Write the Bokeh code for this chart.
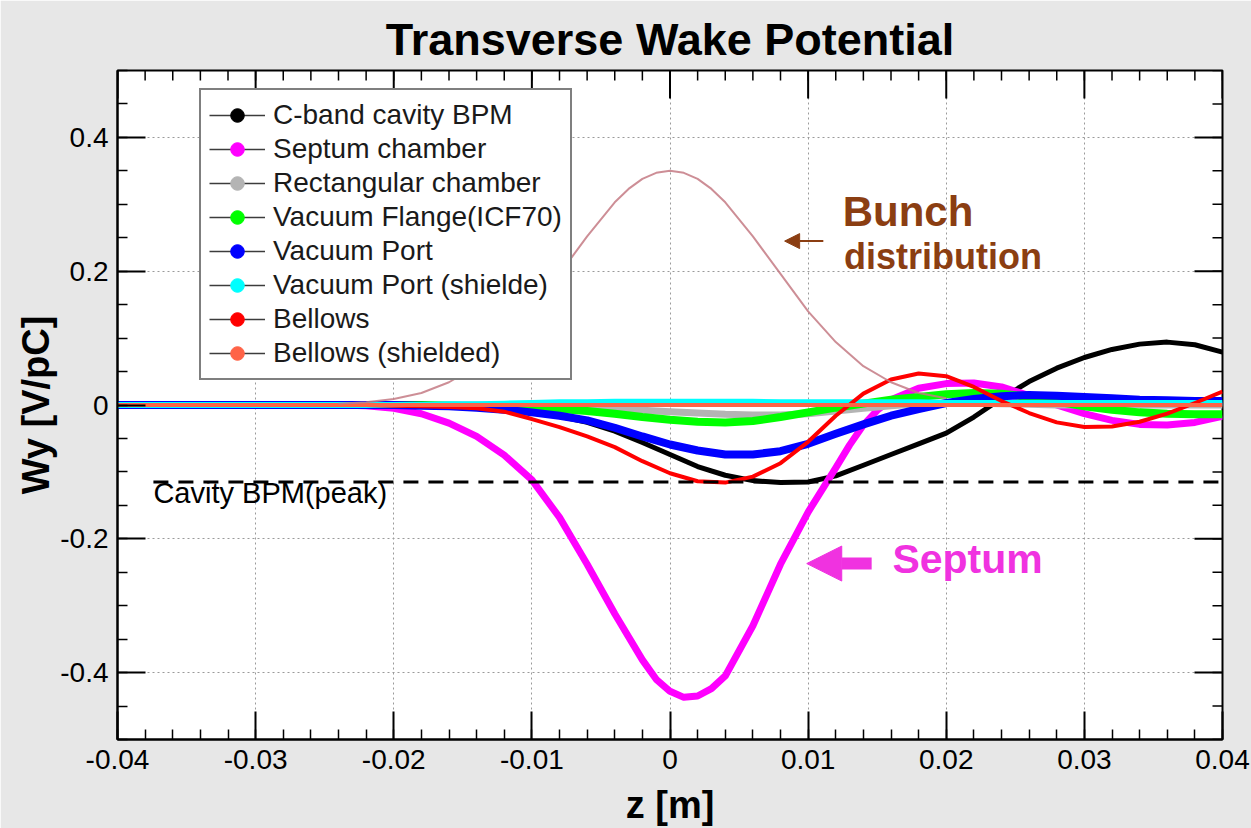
from bokeh.plotting import figure
from bokeh.models import (Range1d, FixedTicker, Legend, LegendItem,
                          Label, Arrow, NormalHead)
from bokeh.embed import file_html
from bokeh.resources import INLINE
import numpy as np

# ---------------- data ----------------
z = [-0.040, -0.030, -0.024, -0.022, -0.020, -0.018, -0.016, -0.014, -0.012, -0.010,
     -0.008, -0.006, -0.004, -0.002, 0.000, 0.002, 0.004, 0.006, 0.008, 0.010,
     0.012, 0.014, 0.016, 0.018, 0.020, 0.022, 0.024, 0.026, 0.028, 0.030,
     0.032, 0.034, 0.036, 0.038, 0.040]

cband_bpm = [0, 0, 0, 0, 0, -0.001, -0.002, -0.004, -0.007, -0.011,
             -0.017, -0.026, -0.039, -0.056, -0.074, -0.092, -0.105, -0.113, -0.116, -0.115,
             -0.106, -0.090, -0.074, -0.058, -0.042, -0.018, 0.010, 0.035, 0.055, 0.071,
             0.083, 0.091, 0.094, 0.090, 0.079]

z_septum = [-0.040, -0.030, -0.024, -0.022, -0.020, -0.018, -0.016, -0.014, -0.012, -0.010,
            -0.008, -0.006, -0.004, -0.002, -0.001, 0.000, 0.001, 0.002, 0.003, 0.004,
            0.006, 0.008, 0.010, 0.012, 0.013, 0.014, 0.015, 0.016, 0.018, 0.020,
            0.022, 0.024, 0.026, 0.028, 0.030, 0.032, 0.034, 0.036, 0.038, 0.040]
septum = [0, 0, 0, -0.001, -0.005, -0.013, -0.027, -0.047, -0.075, -0.112,
          -0.168, -0.238, -0.312, -0.381, -0.410, -0.428, -0.437, -0.435, -0.424, -0.405,
          -0.330, -0.238, -0.160, -0.094, -0.060, -0.030, -0.008, 0.008, 0.025, 0.032,
          0.033, 0.027, 0.014, 0.000, -0.013, -0.023, -0.029, -0.030, -0.026, -0.017]

rect_chamber = [0, 0, 0, 0, 0, 0, 0, 0, -0.001, -0.002,
                -0.003, -0.004, -0.006, -0.008, -0.010, -0.012, -0.014, -0.015, -0.015, -0.013,
                -0.009, -0.005, -0.001, 0.002, 0.003, 0.003, 0.002, 0.001, 0, 0,
                0, 0, 0, 0, 0]

flange_icf70 = [0, 0, 0, 0, 0, 0, -0.001, -0.002, -0.003, -0.004,
                -0.006, -0.009, -0.013, -0.018, -0.022, -0.025, -0.026, -0.024, -0.018, -0.011,
                -0.004, 0.002, 0.008, 0.012, 0.016, 0.018, 0.017, 0.012, 0.005, -0.002,
                -0.007, -0.011, -0.013, -0.014, -0.014]

vac_port = [0, 0, 0, 0, 0, -0.001, -0.002, -0.004, -0.007, -0.011,
            -0.016, -0.023, -0.034, -0.047, -0.059, -0.068, -0.074, -0.074, -0.069, -0.058,
            -0.043, -0.029, -0.016, -0.006, 0.003, 0.009, 0.013, 0.015, 0.014, 0.012,
            0.010, 0.008, 0.007, 0.006, 0.006]

vac_port_sh = [0, 0, 0, 0, 0, 0, 0.001, 0.001, 0.002, 0.003,
               0.004, 0.004, 0.005, 0.005, 0.005, 0.005, 0.005, 0.005, 0.004, 0.004,
               0.004, 0.004, 0.004, 0.004, 0.003, 0.003, 0.003, 0.003, 0.003, 0.003,
               0.003, 0.003, 0.003, 0.003, 0.003]

bellows = [0, 0, 0, 0, -0.001, -0.002, -0.003, -0.005, -0.010, -0.021,
           -0.033, -0.047, -0.063, -0.084, -0.102, -0.114, -0.116, -0.107, -0.087, -0.055,
           -0.016, 0.017, 0.038, 0.047, 0.043, 0.027, 0.006, -0.012, -0.026, -0.033,
           -0.032, -0.025, -0.013, 0.003, 0.020]

bellows_sh = [0] * len(z)

z_bunch = [-0.024, -0.022, -0.020, -0.018, -0.016, -0.014, -0.012, -0.010, -0.008, -0.006,
           -0.004, -0.003, -0.002, -0.001, 0.000, 0.001, 0.002, 0.003, 0.004, 0.006,
           0.008, 0.010, 0.012, 0.014, 0.016, 0.018, 0.020]
bunch = [0.002, 0.004, 0.009, 0.018, 0.034, 0.058, 0.094, 0.140, 0.196, 0.252,
         0.303, 0.323, 0.338, 0.347, 0.350, 0.347, 0.338, 0.323, 0.303, 0.252,
         0.196, 0.140, 0.094, 0.058, 0.034, 0.018, 0.010]

bpm_peak = -0.115

series_names = ["C-band cavity BPM", "Septum chamber", "Rectangular chamber",
                "Vacuum Flange(ICF70)", "Vacuum Port", "Vacuum Port (shielde)",
                "Bellows", "Bellows (shielded)"]
series_colors = ["#000000", "#ff00ff", "#b4b4b4", "#00ff00", "#0000ff",
                 "#00ffff", "#ff0000", "#ff6347"]
series_widths = [5, 7, 7, 8, 8, 6, 4, 4]
series_x = [z, z_septum, z, z, z, z, z, z]
series_y = [cband_bpm, septum, rect_chamber, flange_icf70, vac_port,
            vac_port_sh, bellows, bellows_sh]

x_ticks = [-0.04, -0.03, -0.02, -0.01, 0.0, 0.01, 0.02, 0.03, 0.04]
x_tick_labels = ["-0.04", "-0.03", "-0.02", "-0.01", "0", "0.01", "0.02", "0.03", "0.04"]
y_ticks = [-0.4, -0.2, 0.0, 0.2, 0.4]
y_tick_labels = ["-0.4", "-0.2", "0", "0.2", "0.4"]

X_LO, X_HI, Y_LO, Y_HI = -0.04, 0.04, -0.5, 0.5

# ---------------- figure ----------------
FONT = "Liberation Sans"
p = figure(width=1251, height=828, x_range=Range1d(X_LO, X_HI), y_range=Range1d(Y_LO, Y_HI),
           output_backend="svg", toolbar_location=None,
           min_border_left=117, min_border_right=29, min_border_top=70, min_border_bottom=87,
           border_fill_color="#e7e7e7", background_fill_color="white",
           outline_line_color="black", outline_line_width=2)

p.title.text = "Transverse Wake Potential"
p.title.align = "center"
p.title.text_font = FONT
p.title.text_font_size = "45px"
p.title.text_font_style = "bold"
p.title.text_color = "black"
p.title.standoff = 12

x_minor = [float(v) for v in np.round(np.arange(-0.04, 0.0401, 0.002), 4)]
y_minor = [float(v) for v in np.round(np.arange(-0.5, 0.501, 0.05), 3)]
xt = FixedTicker(ticks=x_ticks, minor_ticks=x_minor)
yt = FixedTicker(ticks=y_ticks, minor_ticks=y_minor)

xb = p.xaxis[0]
yl = p.yaxis[0]
xb.ticker = xt
yl.ticker = yt
xb.major_label_overrides = dict(zip(x_ticks, x_tick_labels))
yl.major_label_overrides = dict(zip(y_ticks, y_tick_labels))

for ax in [xb, yl]:
    ax.axis_line_width = 2
    ax.axis_line_color = "black"
    ax.major_tick_in = 28
    ax.major_tick_out = 0
    ax.minor_tick_in = 10
    ax.minor_tick_out = 0
    ax.major_tick_line_width = 2
    ax.minor_tick_line_width = 1.5
    ax.major_tick_line_color = "black"
    ax.minor_tick_line_color = "black"
    ax.major_label_text_font = FONT
    ax.major_label_text_font_size = "28px"
    ax.major_label_text_color = "black"
    ax.axis_label_text_font = FONT
    ax.axis_label_text_font_size = "38px"
    ax.axis_label_text_font_style = "bold"
    ax.axis_label_text_color = "black"
xb.axis_label = "z [m]"
yl.axis_label = "Wy [V/pC]"
xb.major_label_standoff = 10
yl.major_label_standoff = 9
xb.axis_label_standoff = 12
yl.axis_label_standoff = 0

for g in [p.xgrid[0], p.ygrid[0]]:
    g.grid_line_color = "#9a9a9a"
    g.grid_line_dash = "2 3"
    g.grid_line_width = 1

# mirrored ticks on the top and right frame edges (half of each dash is clipped away)
p.scatter(x=x_ticks, y=[Y_HI] * len(x_ticks), marker="dash", angle=np.pi / 2, size=56,
          line_color="black", line_width=2)
p.scatter(x=x_minor, y=[Y_HI] * len(x_minor), marker="dash", angle=np.pi / 2, size=20,
          line_color="black", line_width=1.5)
p.scatter(x=[X_HI] * len(y_ticks), y=y_ticks, marker="dash", size=56,
          line_color="black", line_width=2)
p.scatter(x=[X_HI] * len(y_minor), y=y_minor, marker="dash", size=20,
          line_color="black", line_width=1.5)

# ---------------- curves ----------------
for xs, ys, c, w in zip(series_x, series_y, series_colors, series_widths):
    p.line(xs, ys, line_color=c, line_width=w, line_join="round")

p.line(z_bunch, bunch, line_color="#c47a84", line_width=2, line_alpha=0.85)

# reference line: Cavity BPM peak
dash_start = -0.0374
p.segment(x0=[dash_start], y0=[bpm_peak], x1=[X_HI], y1=[bpm_peak],
          line_color="black", line_width=3, line_dash="15 10")

# ---------------- annotations ----------------
brown = "#8b3e12"
pink = "#f032e0"
p.add_layout(Label(x=dash_start, y=-0.156, text="Cavity BPM(peak)", text_font=FONT,
                   text_font_size="29px", text_color="black"))
p.add_layout(Label(x=0.0125, y=0.254, text="Bunch", text_font=FONT, text_font_size="42px",
                   text_font_style="bold", text_color=brown))
p.add_layout(Label(x=0.0126, y=0.191, text="distribution", text_font=FONT,
                   text_font_size="36px", text_font_style="bold", text_color=brown))
p.add_layout(Label(x=0.0161, y=-0.264, text="Septum", text_font=FONT, text_font_size="41px",
                   text_font_style="bold", text_color=pink))
p.add_layout(Arrow(end=NormalHead(size=15, fill_color=brown, line_color=brown),
                   x_start=0.0111, y_start=0.245, x_end=0.0083, y_end=0.245,
                   line_color=brown, line_width=2))
p.add_layout(Arrow(end=NormalHead(size=35, fill_color=pink, line_color=pink),
                   x_start=0.0146, y_start=-0.237, x_end=0.0099, y_end=-0.237,
                   line_color=pink, line_width=12))

# ---------------- legend (gray line + coloured dot, like the original) ----------------
items = []
for name, c in zip(series_names, series_colors):
    rl = p.line(x=[np.nan], y=[np.nan], line_color="#3c3c3c", line_width=1.5)
    rs = p.scatter(x=[np.nan], y=[np.nan], marker="circle", size=8, fill_color=c, line_color=c)
    items.append(LegendItem(label=name, renderers=[rl, rs]))

legend = Legend(items=items, location=(82, 359), border_line_color="black",
                border_line_width=2, background_fill_color="white", background_fill_alpha=1,
                label_text_font=FONT, label_text_font_size="28px", label_text_color="#1a1a1a",
                label_height=34, glyph_height=34, glyph_width=56, label_standoff=8,
                spacing=0, padding=8, margin=0)
p.add_layout(legend, "center")

open("out.html", "w").write(file_html(p, INLINE))
